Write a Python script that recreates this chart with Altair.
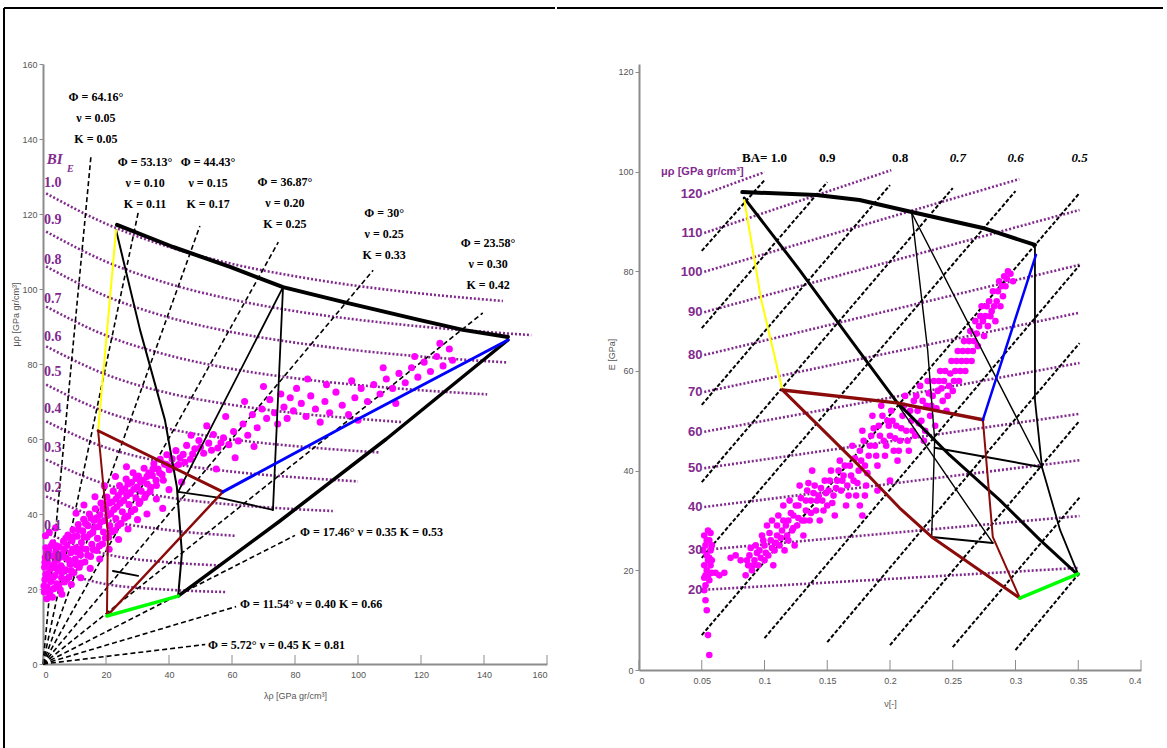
import altair as alt
import pandas as pd

PURPLE = "#82298e"
MAGENTA = "#ff00ff"
MAROON = "#8b0a0a"
AXIS_GREY = "#8c8c8c"
AX_FONT = "Liberation Sans"
SERIF = "Liberation Serif"

# ---------------- left panel: lambda-rho vs mu-rho ----------------
# constant-E brittleness curves (lambda-rho, mu-rho) with their BI_E labels
bi_names = ["1.0", "0.9", "0.8", "0.7", "0.6", "0.5", "0.4", "0.3", "0.2", "0.1", "0.0"]
bi_label_mu = [128.3, 118.4, 107.7, 97.3, 87.2, 77.9, 68.0, 57.6, 46.9, 36.8, 28.5]
bi_curves = [
    [(1, 125.5), (20, 117.4), (40, 111.2), (60, 106.7), (80, 103.4), (100, 100.8), (120, 98.8), (146, 96.8)],
    [(1, 115.3), (20, 107.3), (40, 101.4), (60, 97.2), (80, 94.1), (100, 91.8), (120, 90.0), (140, 88.6), (155, 87.7)],
    [(1, 106.0), (20, 98.1), (40, 92.4), (60, 88.5), (80, 85.7), (100, 83.6), (120, 82.0), (147.6, 80.4)],
    [(1, 95.3), (20, 87.6), (40, 82.3), (60, 78.7), (80, 76.2), (100, 74.4), (120, 73.0), (141, 71.9)],
    [(1, 84.7), (20, 77.2), (40, 72.2), (60, 69.1), (80, 66.9), (100, 65.4), (114, 64.5)],
    [(1, 74.5), (20, 67.2), (40, 62.7), (60, 59.9), (80, 58.1), (107, 56.4)],
    [(1, 64.7), (20, 57.7), (40, 53.6), (60, 51.3), (80, 49.8), (100, 48.7)],
    [(1, 54.5), (20, 47.9), (40, 44.4), (60, 42.5), (80, 41.3), (92, 40.8)],
    [(1, 44.7), (20, 38.5), (40, 35.7), (61, 34.2)],
    [(1, 34.9), (20, 29.3), (40, 27.1), (56, 26.3)],
    [(1, 26.1), (20, 21.3), (40, 19.8), (58, 19.2)],
]

# Poisson's ratio lines through the origin: end point of each line
nu_ends = [(15.2, 135.2), (30.2, 120.3), (49.8, 116.8), (74.7, 112.5), (104.8, 105.0),
           (139.6, 93.6), (80.0, 34.3), (61.3, 15.3), (51.5, 5.2)]
nu_block_text = [
    "Φ = 64.16°\nν = 0.05\nK = 0.05",
    "Φ = 53.13°\nν = 0.10\nK = 0.11",
    "Φ = 44.43°\nν = 0.15\nK = 0.17",
    "Φ = 36.87°\nν = 0.20\nK = 0.25",
    "Φ = 30°\nν = 0.25\nK = 0.33",
    "Φ = 23.58°\nν = 0.30\nK = 0.42",
]
nu_block_pos = [(16.8, 152.5), (32.4, 135.2), (52.4, 135.2), (76.8, 129.9), (108.3, 121.6), (141.3, 113.6)]
nu_line_text = ["Φ = 17.46° ν = 0.35  K = 0.53", "Φ = 11.54° ν = 0.40  K = 0.66", "Φ = 5.72°  ν = 0.45  K = 0.81"]
nu_line_pos = [(81.6, 35.2), (62.5, 16.0), (52.4, 5.1)]

# template lines: name -> (colour, width, points)
left_template = {
    "upper": ("black", 4, [(23.5, 117.1), (41.3, 111.2), (59.4, 105.9), (76.2, 100.5), (96.5, 96.3),
                           (119.7, 91.7), (133.3, 89.1), (147.6, 87.2)]),
    "lower": ("black", 3.5, [(147.6, 86.4), (109.0, 60.0), (75.0, 38.0), (42.9, 18.1)]),
    "l1": ("black", 2, [(23.2, 115.7), (30.8, 89.1), (38.7, 65.1), (42.5, 47.2), (44.1, 29.6), (42.9, 18.1)]),
    "l2": ("black", 1.8, [(76.2, 100.5), (42.9, 45.9)]),
    "l3": ("black", 1.8, [(76.2, 100.5), (73.0, 41.1)]),
    "l4": ("black", 1.8, [(42.9, 45.9), (56.2, 44.3), (73.0, 41.1)]),
    "l5": ("black", 1.8, [(22.2, 24.8), (30.2, 23.5)]),
    "yellow": ("#ffff00", 2, [(23.2, 115.7), (17.5, 62.2)]),
    "m_top": (MAROON, 3, [(17.5, 62.2), (57.1, 45.9)]),
    "m_left": (MAROON, 2, [(17.5, 62.2), (20.6, 34.9), (20.3, 12.8)]),
    "m_diag": (MAROON, 2.5, [(20.3, 12.8), (57.1, 45.9)]),
    "green": ("#00ff00", 3.5, [(20.3, 12.8), (42.9, 18.1)]),
    "blue": ("#0000ff", 3, [(57.1, 45.9), (98.4, 64.6), (147.6, 86.4)]),
}

left_pts = [
    (0.4, 19.2), (0.6, 22.5), (0.5, 25.8), (0.7, 28.4), (0.9, 31.0), (1.3, 20.6), (1.6, 24.1), (1.4, 27.3),
    (1.8, 30.2), (2.2, 18.7), (2.5, 22.0), (2.4, 25.4), (2.9, 28.8), (3.1, 32.3), (3.4, 20.1), (3.8, 23.6),
    (3.6, 26.7), (4.1, 29.9), (4.4, 21.4), (4.8, 24.9), (4.6, 27.8), (5.2, 31.2), (5.5, 19.8), (5.9, 23.0),
    (5.7, 26.2), (6.2, 29.4), (6.5, 32.7), (6.8, 21.9), (7.1, 25.1), (7.3, 28.3), (7.6, 31.6), (7.9, 34.4),
    (8.3, 23.2), (8.6, 26.6), (8.8, 29.7), (9.2, 32.9), (9.5, 35.8), (9.8, 24.4), (10.2, 27.9), (10.5, 31.0),
    (10.8, 34.1), (11.2, 37.2), (11.5, 25.8), (11.9, 29.1), (12.2, 32.4), (12.6, 35.5), (12.9, 38.6),
    (13.3, 27.2), (13.7, 30.6), (14.0, 33.8), (14.3, 36.9), (14.7, 40.0), (15.1, 28.7), (15.5, 31.9),
    (15.8, 35.1), (16.2, 38.3), (16.6, 41.4), (17.0, 30.3), (17.3, 33.5), (17.7, 36.6), (18.1, 39.8),
    (18.4, 42.9), (18.9, 32.0), (19.2, 35.2), (19.6, 38.2), (20.0, 41.3), (20.3, 44.5), (20.8, 33.8),
    (21.2, 36.9), (21.5, 40.1), (21.9, 43.2), (22.3, 46.1), (22.8, 35.6), (23.1, 38.8), (23.5, 41.9),
    (23.9, 44.9), (24.3, 47.6), (24.8, 37.5), (25.2, 40.6), (25.6, 43.6), (26.0, 46.7), (26.4, 49.3),
    (26.9, 39.4), (27.3, 42.5), (27.7, 45.5), (28.1, 48.4), (28.6, 51.0), (29.1, 41.2), (29.5, 44.3),
    (29.9, 47.2), (30.3, 50.1), (30.8, 43.3), (31.2, 46.1), (31.7, 49.0), (32.1, 52.2), (32.7, 45.2),
    (33.1, 48.0), (33.6, 50.9), (34.2, 47.1), (34.7, 50.3), (35.2, 53.4), (35.9, 49.0), (36.5, 52.0),
    (37.2, 54.6), (37.8, 50.5), (38.6, 53.3), (39.3, 55.8), (40.1, 51.8), (41.0, 54.7), (42.2, 56.9),
    (43.1, 53.2), (44.5, 55.9), (45.6, 58.3), (46.8, 54.6), (48.2, 57.4), (49.5, 59.6), (51.0, 56.2),
    (52.6, 58.9), (54.1, 61.2), (55.5, 57.6), (57.3, 60.3), (0.8, 34.2), (2.0, 35.1), (4.0, 36.3),
    (1.2, 17.4), (3.0, 17.8), (6.0, 18.6), (9.0, 21.2), (12.0, 23.0), (15.0, 25.5), (18.0, 28.0),
    (21.0, 30.6), (24.0, 33.2), (27.0, 36.0), (30.0, 38.5), (10.5, 40.2), (13.0, 42.4), (16.5, 44.6),
    (19.5, 47.5), (23.0, 50.0), (26.5, 52.6), (36.0, 44.0), (40.0, 46.5), (44.0, 48.5), (38.0, 41.5),
    (33.0, 40.0), (59.0, 58.5), (60.5, 62.0), (62.0, 59.5), (63.5, 64.0), (65.0, 61.0), (66.5, 66.5),
    (68.0, 63.0), (69.5, 68.0), (71.0, 65.5), (72.0, 70.5), (73.5, 67.0), (74.5, 64.0), (75.5, 72.0),
    (76.5, 68.5), (77.5, 65.5), (78.5, 71.0), (79.5, 67.5), (80.5, 73.5), (82.0, 69.5), (83.5, 66.0),
    (85.0, 71.5), (86.5, 68.0), (88.0, 64.5), (89.5, 70.0), (91.0, 67.0), (93.0, 72.5), (95.0, 69.0),
    (97.0, 66.5), (99.0, 71.0), (101.0, 73.5), (103.0, 70.0), (105.0, 74.5), (107.0, 72.0), (109.0, 76.0),
    (111.0, 73.5), (113.0, 77.5), (115.0, 75.0), (117.0, 79.0), (119.0, 76.5), (121.0, 80.5), (123.0, 78.0),
    (125.0, 82.0), (127.0, 79.5), (129.0, 84.0), (130.0, 81.0), (126.0, 85.5), (118.0, 82.0), (108.0, 79.0),
    (98.0, 75.5), (90.0, 74.5), (84.0, 76.0), (70.0, 74.0), (64.0, 70.0), (58.0, 66.0), (52.0, 63.5),
    (47.0, 61.0), (61.0, 55.0), (67.0, 58.0), (55.0, 52.0), (100.0, 65.0), (112.0, 69.5),
    (0.3, 20.8), (0.9, 23.9), (0.6, 27.1), (1.1, 29.6), (1.9, 19.5), (2.0, 22.8), (2.7, 26.0), (2.6, 31.5),
    (3.2, 23.1), (4.0, 25.6), (4.3, 31.5), (5.0, 21.0), (5.4, 28.5), (6.0, 24.5), (6.6, 30.6), (7.5, 22.6),
    (7.2, 33.5), (8.1, 27.8), (8.9, 24.9), (9.4, 30.6), (9.7, 34.0), (10.6, 26.5), (10.9, 29.8), (11.3, 35.8),
    (12.0, 26.9), (12.4, 30.8), (13.0, 33.9), (13.5, 37.5), (14.2, 29.0), (14.9, 34.6), (15.2, 38.9),
    (16.0, 30.5), (16.4, 36.4), (17.1, 39.0), (17.9, 31.5), (18.3, 37.9), (19.0, 41.4), (19.8, 33.6),
    (20.5, 39.6), (21.0, 42.9), (21.7, 35.2), (22.5, 41.2), (23.2, 44.0), (23.8, 36.9), (24.5, 42.9),
    (25.0, 46.0), (25.9, 38.9), (26.6, 44.9), (27.0, 48.0), (28.0, 40.6), (28.8, 46.6), (29.5, 49.5),
    (30.5, 42.8), (31.0, 48.5), (32.3, 44.4), (33.0, 50.0), (34.0, 46.0), (34.9, 52.0), (36.0, 47.6),
    (37.0, 51.0), (38.2, 49.0), (39.5, 53.0), (41.5, 52.5), (43.5, 55.0), (45.0, 53.8), (47.5, 56.0),
    (50.0, 57.8), (53.5, 57.0), (56.5, 59.0),
]

left_ticks = [0, 20, 40, 60, 80, 100, 120, 140, 160]

# ---------------- right panel: Poisson's ratio vs Young's modulus ----------------
mu_names = ["120", "110", "100", "90", "80", "70", "60", "50", "40", "30", "20"]
mu_lines = [
    [(0.052, 95.5), (0.100, 99.9)],
    [(0.052, 87.7), (0.201, 100.3)],
    [(0.052, 79.9), (0.303, 98.5)],
    [(0.052, 71.8), (0.351, 92.3)],
    [(0.052, 63.2), (0.351, 81.3)],
    [(0.052, 55.8), (0.351, 71.7)],
    [(0.052, 47.8), (0.351, 61.6)],
    [(0.052, 40.5), (0.351, 51.4)],
    [(0.052, 32.7), (0.351, 42.1)],
    [(0.052, 24.1), (0.351, 30.9)],
    [(0.052, 16.1), (0.351, 20.5)],
]
ba_lines = [
    [(0.050, 84.1), (0.100, 98.3)],
    [(0.050, 68.6), (0.150, 97.9)],
    [(0.050, 53.2), (0.200, 97.3)],
    [(0.050, 37.7), (0.250, 96.7)],
    [(0.050, 22.5), (0.300, 96.1)],
    [(0.050, 7.0), (0.351, 95.7)],
    [(0.100, 6.4), (0.351, 81.2)],
    [(0.150, 5.6), (0.351, 65.6)],
    [(0.200, 5.0), (0.351, 50.0)],
    [(0.250, 4.6), (0.351, 34.6)],
    [(0.300, 4.0), (0.351, 19.5)],
]
ba_text = ["BA= 1.0", "0.9", "0.8", "0.7", "0.6", "0.5"]
ba_text_v = [0.100, 0.150, 0.208, 0.254, 0.300, 0.351]
ba_italic = [False, False, False, True, True, True]

right_template = {
    "upper": ("black", 4, [(0.0823, 95.9), (0.1414, 95.3), (0.1757, 94.3), (0.2173, 91.9), (0.274, 88.7), (0.3155, 85.3)]),
    "diag": ("black", 3, [(0.0839, 94.7), (0.1278, 80.3), (0.1677, 66.6), (0.2053, 53.8), (0.2476, 43.1),
                          (0.2875, 34.1), (0.3195, 26.1), (0.3498, 19.1)]),
    "right": ("black", 1.8, [(0.3155, 84.9), (0.3155, 54.2), (0.3211, 40.7), (0.3355, 28.1), (0.3498, 19.3)]),
    "t1": ("black", 1.4, [(0.2173, 91.7), (0.2300, 64.2), (0.2356, 46.2), (0.2332, 26.7)]),
    "t2": ("black", 1.4, [(0.2173, 91.7), (0.3211, 40.7)]),
    "t3": ("black", 2, [(0.2356, 44.6), (0.3211, 40.7)]),
    "t4": ("black", 2, [(0.2332, 26.7), (0.2819, 25.5)]),
    "t5": ("black", 1.4, [(0.2053, 53.6), (0.2819, 25.5)]),
    "yellow": ("#ffff00", 2, [(0.0839, 94.3), (0.0974, 74.3), (0.1078, 63.2), (0.1142, 56.2)]),
    "m_top": (MAROON, 3.5, [(0.1142, 56.2), (0.2053, 53.6), (0.2740, 50.2)]),
    "m_right": (MAROON, 2, [(0.2740, 50.2), (0.2819, 26.7), (0.3035, 14.4)]),
    "m_diag": (MAROON, 3, [(0.1142, 56.2), (0.1757, 40.9), (0.2077, 32.5), (0.2332, 26.7), (0.3035, 14.4)]),
    "green": ("#00ff00", 3.5, [(0.3035, 14.4), (0.3498, 19.3)]),
    "blue": ("#0000ff", 2.5, [(0.2740, 50.2), (0.3163, 83.3)]),
}

right_pts = [
    (0.052, 27), (0.053, 25), (0.054, 23), (0.052, 21), (0.055, 19), (0.053, 17), (0.056, 26), (0.057, 24),
    (0.055, 22), (0.054, 20), (0.056, 18), (0.058, 25), (0.052, 16), (0.057, 21), (0.055, 28), (0.053, 14),
    (0.054, 12), (0.055, 7), (0.056, 3), (0.058, 22), (0.051, 24), (0.053, 19), (0.056, 22.5), (0.057, 27.5),
    (0.054, 26), (0.058, 19.5), (0.052, 18.5), (0.061, 19.5), (0.064, 19), (0.068, 19.5),
    (0.073, 22.5), (0.077, 23), (0.081, 22),
    (0.085, 19), (0.087, 21), (0.088, 23), (0.090, 20), (0.092, 22), (0.093, 25), (0.095, 21), (0.096, 24),
    (0.098, 27), (0.100, 22), (0.100, 25), (0.102, 29), (0.103, 23), (0.105, 26), (0.106, 30), (0.107, 21),
    (0.108, 24), (0.110, 27), (0.111, 31), (0.112, 25), (0.114, 28), (0.115, 33), (0.116, 24), (0.118, 27),
    (0.119, 30), (0.120, 34), (0.122, 28), (0.123, 31), (0.124, 25), (0.126, 29), (0.127, 33), (0.128, 37),
    (0.130, 30), (0.131, 27), (0.133, 32), (0.134, 36), (0.136, 30), (0.137, 34), (0.138, 40), (0.140, 37),
    (0.141, 32), (0.143, 35), (0.144, 30), (0.146, 34), (0.148, 38), (0.150, 33), (0.151, 36), (0.153, 40),
    (0.155, 35), (0.156, 31), (0.158, 38), (0.160, 42), (0.161, 36), (0.163, 39), (0.165, 33), (0.166, 37),
    (0.168, 41), (0.170, 45), (0.171, 38), (0.173, 35), (0.175, 40), (0.176, 44), (0.178, 48), (0.180, 41),
    (0.181, 37), (0.183, 43), (0.185, 47), (0.186, 51), (0.188, 45), (0.190, 41), (0.191, 49), (0.193, 53),
    (0.195, 46), (0.196, 43), (0.198, 50), (0.200, 47), (0.201, 52), (0.203, 44), (0.205, 49), (0.206, 42),
    (0.208, 46), (0.210, 51), (0.212, 55), (0.213, 48), (0.215, 44), (0.217, 50), (0.219, 54), (0.220, 47),
    (0.222, 52), (0.224, 57), (0.225, 50), (0.227, 46), (0.229, 53), (0.230, 58), (0.232, 51), (0.234, 55),
    (0.236, 49), (0.238, 56), (0.240, 60), (0.242, 54), (0.243, 58), (0.245, 52), (0.247, 57), (0.249, 62),
    (0.250, 56), (0.252, 60), (0.254, 64), (0.255, 58), (0.257, 62), (0.259, 66), (0.260, 60), (0.262, 64),
    (0.264, 68), (0.265, 62), (0.267, 66), (0.268, 70), (0.270, 65), (0.271, 69), (0.273, 73), (0.275, 67),
    (0.276, 71), (0.278, 69), (0.279, 74), (0.281, 72), (0.282, 76), (0.284, 70), (0.285, 74), (0.287, 78),
    (0.288, 73), (0.290, 75), (0.291, 79), (0.292, 77), (0.294, 80), (0.176, 33), (0.178, 31), (0.180, 35),
    (0.200, 38), (0.190, 36),
    (0.086, 22), (0.089, 24.5), (0.091, 21), (0.094, 23.5), (0.097, 22.5), (0.099, 26), (0.101, 23.5),
    (0.104, 27.5), (0.106, 24.5), (0.109, 25.5), (0.110, 29), (0.113, 26.5), (0.115, 30), (0.117, 29),
    (0.119, 26), (0.121, 31.5), (0.123, 28.5), (0.125, 33), (0.127, 30.5), (0.129, 34.5), (0.132, 30),
    (0.133, 34), (0.135, 37.5), (0.137, 31.5), (0.139, 35.5), (0.142, 34), (0.145, 36.5), (0.147, 32),
    (0.149, 35.5), (0.152, 38), (0.154, 33.5), (0.157, 36.5), (0.159, 40), (0.162, 38), (0.164, 41),
    (0.167, 35), (0.169, 39), (0.172, 42.5), (0.174, 37.5), (0.177, 42), (0.179, 46), (0.182, 39.5),
    (0.184, 45), (0.187, 48.5), (0.189, 43), (0.192, 47), (0.194, 51), (0.197, 45), (0.199, 49), (0.202, 50),
    (0.204, 46.5), (0.207, 44), (0.209, 48.5), (0.211, 53), (0.214, 46), (0.216, 52), (0.218, 48), (0.221, 55),
    (0.223, 49.5), (0.226, 54), (0.228, 48), (0.231, 55.5), (0.233, 53), (0.235, 58), (0.237, 52.5),
    (0.239, 58), (0.241, 56.5), (0.244, 60), (0.246, 55), (0.248, 59.5), (0.251, 58), (0.253, 62), (0.256, 60),
    (0.258, 64), (0.261, 62), (0.263, 66), (0.266, 64), (0.269, 67.5), (0.272, 71), (0.274, 70), (0.277, 73),
    (0.280, 71), (0.283, 73), (0.286, 76), (0.289, 77), (0.293, 78.5), (0.296, 79.5), (0.298, 78),
]

right_xticks = [0, 0.05, 0.1, 0.15, 0.2, 0.25, 0.3, 0.35, 0.4]
right_yticks = [0, 20, 40, 60, 80, 100, 120]


def series_frame(curves, names):
    rows = []
    for name, pts in zip(names, curves):
        for i, (x, y) in enumerate(pts):
            rows.append({"s": name, "o": i, "x": x, "y": y})
    return pd.DataFrame(rows)


def template_frame(template):
    rows = []
    for name, (color, width, pts) in template.items():
        for i, (x, y) in enumerate(pts):
            rows.append({"s": name, "o": i, "x": x, "y": y, "c": color, "w": width})
    return pd.DataFrame(rows)


def make_axis(values, fmt=None, ticks=True, title_pad=3, label_pad=2, title_y=None):
    kw = dict(values=values, grid=False, domainColor=AXIS_GREY, domainWidth=2,
              tickColor=AXIS_GREY, tickWidth=1, tickSize=4, ticks=ticks,
              labelFont=AX_FONT, labelFontSize=9, labelColor="#555555",
              titleFont=AX_FONT, titleFontSize=9, titleFontWeight="normal",
              titleColor="#555555", titlePadding=title_pad, labelPadding=label_pad)
    if fmt:
        kw["format"] = fmt
    if title_y is not None:
        kw["titleY"] = title_y
    return alt.Axis(**kw)


one_row = pd.DataFrame({"k": [0]})

# ---------- left chart ----------
lx_scale = alt.Scale(domain=[0, 160], nice=False, zero=False)
ly_scale = alt.Scale(domain=[0, 160], nice=False, zero=False)
lx_axis = make_axis(left_ticks, ticks=False, label_pad=6, title_pad=12)
ly_axis = make_axis(left_ticks, title_pad=1, title_y=250)


def LX(field):
    return alt.X(field, type="quantitative", scale=lx_scale, axis=lx_axis, title="λρ [GPa gr/cm³]")


def LY(field):
    return alt.Y(field, type="quantitative", scale=ly_scale, axis=ly_axis, title="μρ [GPa gr/cm³]")


bi_df = series_frame(bi_curves, bi_names)
left_bi = alt.Chart(bi_df).mark_line(color=PURPLE, strokeWidth=2.6, strokeDash=[2, 2],
                                     interpolate="monotone").encode(
    x=LX("x"), y=LY("y"), detail="s:N", order="o:Q")

nu_df = series_frame([[(0, 0), e] for e in nu_ends], [f"n{i}" for i in range(len(nu_ends))])
left_nu = alt.Chart(nu_df).mark_line(color="black", strokeWidth=1.6, strokeDash=[5, 3]).encode(
    x=LX("x"), y=LY("y"), detail="s:N", order="o:Q")

lpts_df = pd.DataFrame(left_pts, columns=["x", "y"])
left_scatter = alt.Chart(lpts_df).mark_circle(color=MAGENTA, size=50, opacity=1).encode(
    x=LX("x"), y=LY("y"))

lt_df = template_frame(left_template)
left_lines = alt.Chart(lt_df).mark_line(strokeCap="round", strokeJoin="round").encode(
    x=LX("x"), y=LY("y"), detail="s:N", order="o:Q",
    color=alt.Color("c:N", scale=None), strokeWidth=alt.StrokeWidth("w:Q", scale=None))

bi_lab_df = pd.DataFrame({"x": [0.3] * len(bi_names), "y": bi_label_mu, "t": bi_names})
left_bi_text = alt.Chart(bi_lab_df).mark_text(align="left", baseline="middle", color=PURPLE,
                                              font=SERIF, fontSize=14, fontWeight="bold").encode(
    x=LX("x"), y=LY("y"), text="t:N")

bie_df = pd.DataFrame({"x": [1.2], "y": [134.8], "t": ["BI"]})
left_bie = alt.Chart(bie_df).mark_text(align="left", baseline="middle", color=PURPLE, font=SERIF,
                                       fontSize=15, fontWeight="bold", fontStyle="italic").encode(
    x=LX("x"), y=LY("y"), text="t:N")
bie_sub_df = pd.DataFrame({"x": [7.6], "y": [132.0], "t": ["E"]})
left_bie_sub = alt.Chart(bie_sub_df).mark_text(align="left", baseline="middle", color=PURPLE, font=SERIF,
                                               fontSize=10, fontWeight="bold", fontStyle="italic").encode(
    x=LX("x"), y=LY("y"), text="t:N")

blk_df = pd.DataFrame({"x": [p[0] for p in nu_block_pos], "y": [p[1] for p in nu_block_pos], "t": nu_block_text})
left_blocks = alt.Chart(blk_df).mark_text(align="center", baseline="top", lineBreak="\n", lineHeight=21,
                                          font=SERIF, fontSize=12, fontWeight="bold", color="black").encode(
    x=LX("x"), y=LY("y"), text="t:N")

row_df = pd.DataFrame({"x": [p[0] for p in nu_line_pos], "y": [p[1] for p in nu_line_pos], "t": nu_line_text})
left_rows = alt.Chart(row_df).mark_text(align="left", baseline="middle", font=SERIF, fontSize=12,
                                        fontWeight="bold", color="black").encode(
    x=LX("x"), y=LY("y"), text="t:N")

ltick_df = pd.DataFrame({"x": left_ticks})
left_ticks_in = alt.Chart(ltick_df).mark_rule(color=AXIS_GREY, strokeWidth=1).encode(
    x=LX("x"), y=alt.value(600), y2=alt.value(591))

# page frame, left and top edges
left_frame_v = alt.Chart(one_row).mark_rule(color="black", strokeWidth=2).encode(
    x=alt.value(-39), y=alt.value(-56), y2=alt.value(684))
left_frame_h = alt.Chart(one_row).mark_rule(color="black", strokeWidth=2).encode(
    x=alt.value(-39), x2=alt.value(512), y=alt.value(-56))

left = alt.layer(left_bi, left_nu, left_scatter, left_lines, left_bi_text, left_bie, left_bie_sub,
                 left_blocks, left_rows, left_ticks_in, left_frame_v, left_frame_h).properties(
    width=504, height=600)

# ---------- right chart ----------
R_HEIGHT = 606
rx_scale = alt.Scale(domain=[0, 0.4], nice=False, zero=False)
ry_scale = alt.Scale(domain=[0, 121.6], nice=False, zero=False)
rx_axis = make_axis(right_xticks, fmt="~g", ticks=False, label_pad=6, title_pad=14)
ry_axis = make_axis(right_yticks, title_pad=1, title_y=290)


def RX(field):
    return alt.X(field, type="quantitative", scale=rx_scale, axis=rx_axis, title="ν[-]")


def RY(field):
    return alt.Y(field, type="quantitative", scale=ry_scale, axis=ry_axis, title="E [GPa]")


mu_df = series_frame(mu_lines, mu_names)
right_mu = alt.Chart(mu_df).mark_line(color=PURPLE, strokeWidth=2.6, strokeDash=[2, 2]).encode(
    x=RX("x"), y=RY("y"), detail="s:N", order="o:Q")

ba_df = series_frame(ba_lines, [f"b{i}" for i in range(len(ba_lines))])
right_ba = alt.Chart(ba_df).mark_line(color="black", strokeWidth=2, strokeDash=[4, 2]).encode(
    x=RX("x"), y=RY("y"), detail="s:N", order="o:Q")

rpts_df = pd.DataFrame(right_pts, columns=["x", "y"])
right_scatter = alt.Chart(rpts_df).mark_circle(color=MAGENTA, size=44, opacity=1).encode(
    x=RX("x"), y=RY("y"))

rt_df = template_frame(right_template)
right_lines = alt.Chart(rt_df).mark_line(strokeCap="round", strokeJoin="round").encode(
    x=RX("x"), y=RY("y"), detail="s:N", order="o:Q",
    color=alt.Color("c:N", scale=None), strokeWidth=alt.StrokeWidth("w:Q", scale=None))

mu_lab_df = pd.DataFrame({"x": [0.0505] * len(mu_names), "y": [ln[0][1] for ln in mu_lines], "t": mu_names})
right_mu_text = alt.Chart(mu_lab_df).mark_text(align="right", baseline="middle", color=PURPLE,
                                               font=AX_FONT, fontSize=13, fontWeight="bold").encode(
    x=RX("x"), y=RY("y"), text="t:N")

mu_title_df = pd.DataFrame({"x": [0.0176], "y": [100.0], "t": ["μρ [GPa gr/cm³]"]})
right_mu_title = alt.Chart(mu_title_df).mark_text(align="left", baseline="middle", color=PURPLE,
                                                  font=AX_FONT, fontSize=11, fontWeight="bold").encode(
    x=RX("x"), y=RY("y"), text="t:N")

ba_df_t = pd.DataFrame({"x": ba_text_v, "y": [102.8] * len(ba_text_v), "t": ba_text,
                        "it": ["italic" if i else "normal" for i in ba_italic]})
right_ba_text = alt.Chart(ba_df_t[ba_df_t["it"] == "normal"]).mark_text(
    align="center", baseline="middle", font=SERIF, fontSize=13, fontWeight="bold", color="black").encode(
    x=RX("x"), y=RY("y"), text="t:N")
right_ba_text_it = alt.Chart(ba_df_t[ba_df_t["it"] == "italic"]).mark_text(
    align="center", baseline="middle", font=SERIF, fontSize=13, fontWeight="bold", fontStyle="italic",
    color="black").encode(x=RX("x"), y=RY("y"), text="t:N")

rtick_df = pd.DataFrame({"x": right_xticks})
right_ticks_in = alt.Chart(rtick_df).mark_rule(color=AXIS_GREY, strokeWidth=1).encode(
    x=RX("x"), y=alt.value(R_HEIGHT), y2=alt.value(R_HEIGHT - 10))

right_frame_h = alt.Chart(one_row).mark_rule(color="black", strokeWidth=2).encode(
    x=alt.value(-82), x2=alt.value(524), y=alt.value(-56))

right = alt.layer(right_mu, right_ba, right_scatter, right_lines, right_mu_text, right_mu_title,
                  right_ba_text, right_ba_text_it, right_ticks_in, right_frame_h).properties(
    width=502, height=R_HEIGHT)

chart = alt.hconcat(left, right, spacing=0).properties(
    padding={"left": 3, "top": 7, "right": 0, "bottom": 0},
    background="white",
).configure_view(stroke=None)

chart.save("out.html", embed_options={"renderer": "svg", "actions": False})
